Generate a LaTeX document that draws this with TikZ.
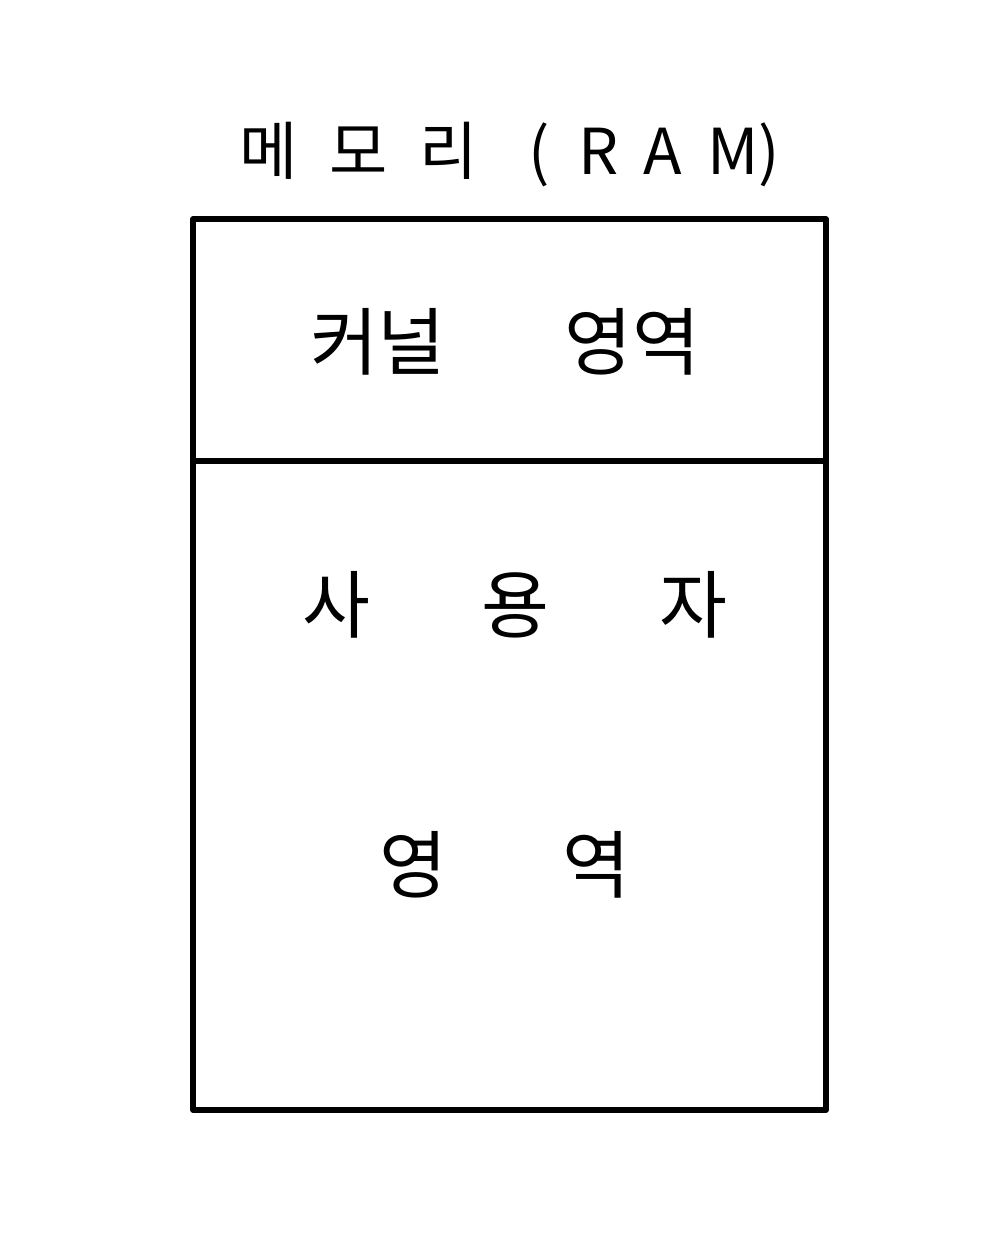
\documentclass[tikz,border=0pt]{standalone}
\usepackage{fontspec}
\setmainfont{Noto Sans CJK KR}
\usetikzlibrary{positioning}

\begin{document}
\begin{tikzpicture}[x=0.01cm, y=-0.01cm,
		label/.style={font=\fontsize{21}{26}\selectfont, inner sep=0pt},
		title/.style={font=\fontsize{18}{22}\selectfont, inner sep=0pt}]
			\useasboundingbox (0,0) rectangle (1000,1259);
			\draw [line width=1.5pt, line join=round] (193,219) rectangle (826,1110);
			\coordinate (divl) at (193,461);
			\coordinate (divr) at (826,461);
			\draw [line width=1.5pt] (divl) -- (divr);
			\node [title] (ram) at (510,155) {메\hspace{0.5em}모\hspace{0.5em}리\hspace{0.8em}(\hspace{0.45em}R\hspace{0.4em}A\hspace{0.4em}M)};
			\node [label] (kernel) at (505,342) {커널\hspace{1.6em}영역};
			\node [label] (user) at (515,605) {사\hspace{1.5em}용\hspace{1.5em}자};
			\node [label] (area) at (505,865) {영\hspace{1.55em}역};
	\end{tikzpicture}
\end{document}
